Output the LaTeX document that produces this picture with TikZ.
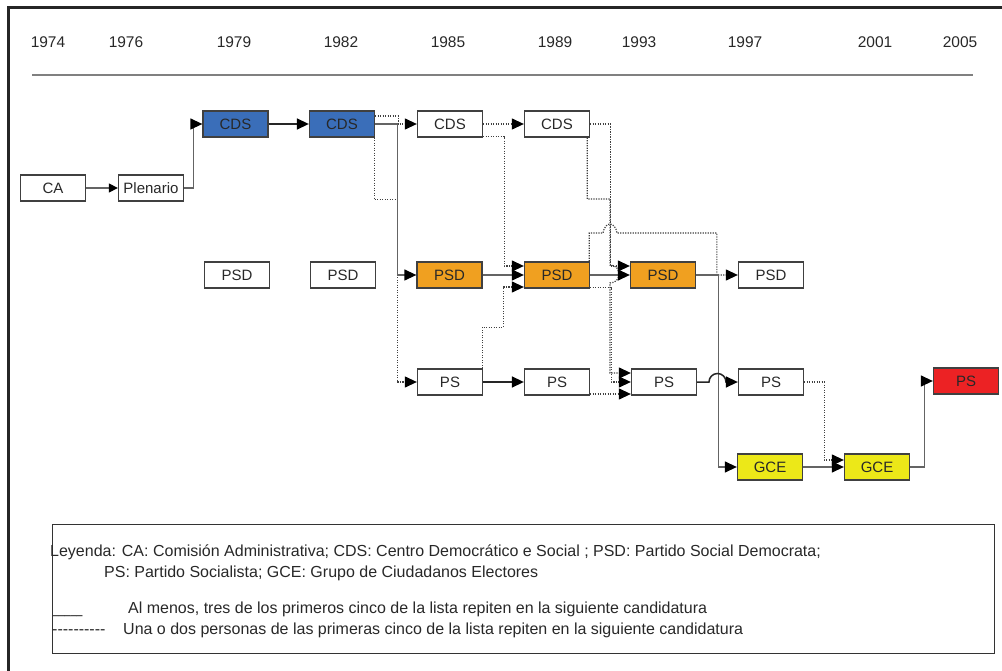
\documentclass[tikz,border=0pt]{standalone}
\usepackage{fontspec}
\setmainfont{Liberation Sans}
\usetikzlibrary{arrows.meta}
\definecolor{cdsblue}{RGB}{58,110,185}
\definecolor{psdorange}{RGB}{240,160,32}
\definecolor{gceyellow}{RGB}{236,232,24}
\definecolor{psred}{RGB}{236,34,36}
\definecolor{edgegray}{RGB}{64,64,64}
\definecolor{conngray}{RGB}{100,100,100}
\definecolor{textgray}{RGB}{40,40,40}
\begin{document}
\begin{tikzpicture}[x=1pt,y=-1pt,
  box/.style={draw=edgegray, line width=1.3pt, minimum width=65pt, minimum height=26pt, inner sep=0pt, text=textgray, font=\fontsize{15}{17}\selectfont},
  year/.style={font=\fontsize{15.5}{17}\selectfont, inner sep=0pt, text=textgray},
  legtext/.style={font=\fontsize{16}{18}\selectfont, inner sep=0pt, anchor=base west, text=textgray},
  tip/.style={-{Triangle[length=12pt,width=11pt,color=black]}},
  smalltip/.style={-{Triangle[length=9pt,width=9pt,color=black]}},
  solidc/.style={tip, draw=conngray, line width=1.3pt},
  solidk/.style={tip, draw=black!85, line width=1.5pt},
  dotc/.style={tip, draw=edgegray, line width=1.2pt, dash pattern=on 1.2pt off 1.3pt},
]
\path[use as bounding box] (0,0) rectangle (1002,671);
% frame
\draw[line width=3pt, draw=black!85] (8,671) -- (8,8) -- (1002,8);
% years
\foreach \x/\y in {48/1974,126/1976,234/1979,341/1982,448/1985,555/1989,639/1993,745/1997,875/2001,960/2005}
  \node[year] (y\y) at (\x,42) {\y};
\draw[draw=black!50, line width=1.2pt] (32,75) -- (973,75);

% nodes
\node[box] (ca) at (53,188) {CA};
\node[box] (plen) at (151,188) {Plenario};
\node[box, fill=cdsblue] (cds79) at (235.5,124) {CDS};
\node[box, fill=cdsblue] (cds82) at (342,124) {CDS};
\node[box] (cds85) at (450,124) {CDS};
\node[box] (cds89) at (557,124) {CDS};
\node[box] (psd79) at (237,275) {PSD};
\node[box] (psd82) at (343,275) {PSD};
\node[box, fill=psdorange] (psd85) at (449.5,275) {PSD};
\node[box, fill=psdorange] (psd89) at (557,275) {PSD};
\node[box, fill=psdorange] (psd93) at (663,275) {PSD};
\node[box] (psd97) at (771,275) {PSD};
\node[box] (ps85) at (450,382) {PS};
\node[box] (ps89) at (557,382) {PS};
\node[box] (ps93) at (664,382) {PS};
\node[box] (ps97) at (771,382) {PS};
\node[box, fill=gceyellow] (gce97) at (770,467) {GCE};
\node[box, fill=gceyellow] (gce01) at (877,467) {GCE};
\node[box, fill=psred] (ps05) at (966,381) {PS};

% connectors
\draw[smalltip, draw=conngray, line width=1.3pt] (ca) -- (plen);
\draw[solidc] (plen.east) -- ++(9,0) |- (cds79.west);
\draw[solidk] (cds79) -- (cds82);
\draw[dotc] ([yshift=8pt]cds82.east) -- ++(23,0) |- (cds85.west);
\draw[dotc] ([xshift=-1pt]cds82.south east) -- ++(0,62) -- ++(23,0) |- (ps85.west);
\draw[solidc] (cds82.east) -- ++(22,0) |- (psd85.west);
\draw[dotc] (cds85) -- (cds89);
\draw[dotc] ([yshift=1pt]cds85.south east) -- ++(21,0) |- ([yshift=9pt]psd89.west);
\draw[solidc] (psd85) -- (psd89);
\draw[dotc] ([xshift=-1pt]ps85.north east) -- ++(0,-41) -- ++(21,0) |- ([yshift=-12pt]psd89.west);
\draw[solidk] (ps85) -- (ps89);
\draw[dotc] (cds89.east) -- ++(20,0) |- ([yshift=9pt]psd93.west);
\draw[dotc] ([xshift=-3pt]cds89.south east) |- (610,199) -- (610,265)
   .. controls (622,265) and (622,283) .. (610,283) |- ([yshift=9pt]ps93.west);
\draw[dotc] ([yshift=1pt]psd89.south east) -- ++(21,0) |- (ps93.west);
\draw[dotc] ([yshift=-12pt]ps89.east) -- ([yshift=-12pt]ps93.west);
\draw[solidc] (psd89) -- (psd93);
\draw[dotc] ([xshift=-1pt]psd89.north east) |- (603,233)
   .. controls (605,221) and (615,221) .. (617,233) -| ([xshift=-21pt]psd97.west) -- (psd97.west);
\draw[solidc] (psd93.east) -- ++(22,0) |- (gce97.west);
\draw[solidk] (ps93.east) -- (709,382) arc[start angle=180, end angle=0, radius=8.5pt] -- (ps97.west);
\draw[dotc] (ps97.east) -- ++(20,0) |- ([yshift=7pt]gce01.west);
\draw[solidc] (gce97) -- (gce01);
\draw[solidc] (gce01.east) -- ++(14,0) |- (ps05.west);

% legend
\draw[draw=black!80, line width=1pt] (52,524) rectangle (994,653);
\node[legtext] (l1) at (50,556) {Leyenda: CA: Comisión Administrativa; CDS: Centro Democrático e Social ; PSD: Partido Social Democrata;};
\node[legtext] (l2) at (104,577) {PS: Partido Socialista; GCE: Grupo de Ciudadanos Electores};
\node[legtext] (l3a) at (53,613) {\scalebox{0.66}[1]{\_\_\_\_\_}};
\node[legtext] (l3) at (128,613) {Al menos, tres de los primeros cinco de la lista repiten en la siguiente candidatura};
\node[legtext] (l4a) at (52,634) {-\kern0pt-\kern0pt-\kern0pt-\kern0pt-\kern0pt-\kern0pt-\kern0pt-\kern0pt-\kern0pt-};
\node[legtext] (l4) at (123,634) {Una o dos personas de las primeras cinco de la lista repiten en la siguiente candidatura};
\end{tikzpicture}
\end{document}
